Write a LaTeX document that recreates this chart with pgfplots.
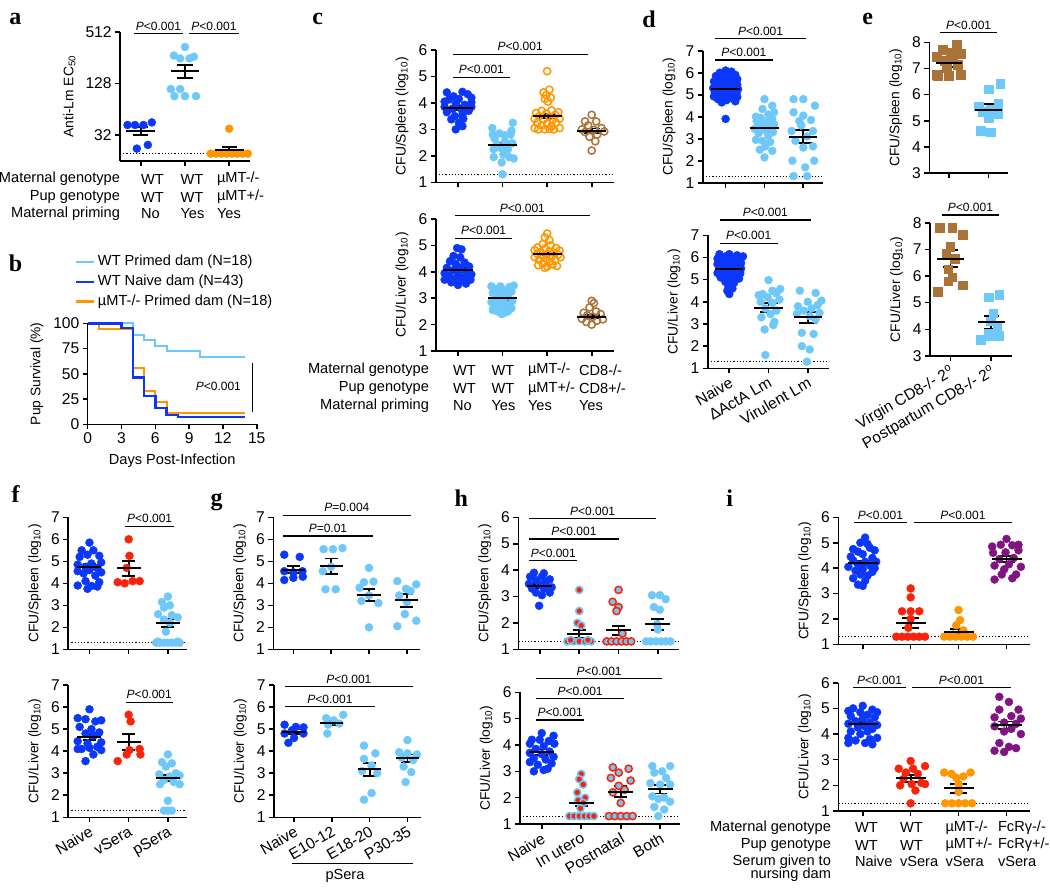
\documentclass[border=0pt]{standalone}
\usepackage{fontspec}
\setmainfont{Liberation Sans}
\newfontfamily\serifb{Liberation Serif}
\usepackage{pgfplots}
\pgfplotsset{compat=1.18}
\definecolor{cDB}{RGB}{10,55,250}
\definecolor{cLB}{RGB}{110,200,250}
\definecolor{cOR}{RGB}{255,150,0}
\definecolor{cBR}{RGB}{170,115,55}
\definecolor{cRD}{RGB}{250,35,10}
\definecolor{cPU}{RGB}{130,20,130}
\newcommand\tk{\fontsize{7.8}{8.5}\selectfont}
\newcommand\lab{\fontsize{7.3}{8.5}\selectfont}
\newcommand\yl{\fontsize{6.9}{8}\selectfont}
\newcommand\pv{\fontsize{6}{7}\selectfont}
\newcommand\pl{\serifb\bfseries\fontsize{12}{12}\selectfont}
\newcommand\Pl{\textit{P}<0.001}
\newcommand\sig[4]{\draw[line width=0.6pt] (axis cs:#1,#3) -- (axis cs:#2,#3) node[midway, above, inner sep=1.3pt, font=\pv] {#4};}
\newcommand\CFU[1]{CFU/#1 (log\textsubscript{10})}
\pgfplotsset{
 prism/.style={scale only axis, clip=false, axis lines=left, axis line style={-, line width=0.8pt},
   tick align=outside, major tick length=2.5pt, tick style={black, line width=0.8pt},
   ticklabel style={font=\tk, inner sep=1.5pt}, /pgf/number format/assume math mode=true,
   ylabel style={font=\yl}, xlabel style={font=\lab}, anchor=south west},
 sc/.style={only marks, mark=*, mark size=2pt, mark options={draw=#1, fill=#1, line width=0.2pt}},
 oc/.style={only marks, mark=o, mark size=1.8pt, mark options={draw=#1, line width=0.75pt}},
 sq/.style={only marks, mark=square*, mark size=2.2pt, mark options={draw=#1, fill=#1}},
 dc/.style 2 args={only marks, mark=*, mark size=1.8pt, mark options={fill=#1, draw=#2, line width=0.75pt}},
 msem/.style 2 args={only marks, mark=-, mark size=#1, mark options={black, line width=1pt},
   error bars/.cd, y dir=both, y explicit, error bar style={black, line width=0.9pt},
   error mark options={rotate=90, mark size=#2, black, line width=0.9pt}},
 lod/.style={black, densely dotted, line width=0.6pt},
 rotx/.style={xticklabel style={rotate=30, anchor=north east, inner sep=1pt}},
}
\begin{document}
\begin{tikzpicture}
\useasboundingbox (0,0) rectangle (525pt,-445pt);
% ---------------- a
\begin{axis}[prism, at={(60pt,-80.5pt)}, width=65pt, height=64.65pt, xmin=-0.47, xmax=2.47,
 ymode=log, log basis y=2, ymin=16, ymax=512, ytick={32,128,512}, yticklabels={32,128,512},
 xtick={0,1,2}, xticklabels={}, ylabel={Anti-Lm EC\textsubscript{50}}]
\addplot[lod] coordinates {(-0.47,19.5)(2.47,19.5)};
\addplot[sc=cDB] coordinates {(-0.3,42)(-0.13,42)(0.06,42)(0.25,45)(0.16,24.6)(-0.09,22.3)};
\addplot[sc=cLB] coordinates {(1.0,340)(0.75,270)(0.89,250)(1.1,250)(1.2,262)(0.68,110)(0.89,110)(0.76,91)(1.0,91)(1.25,91)};
\addplot[sc=cOR] coordinates {(2.0,38)(1.58,19.5)(1.7,19.5)(1.82,19.5)(1.94,19.5)(2.06,19.5)(2.18,19.5)(2.3,19.5)(2.42,19.5)};
\addplot[msem={7.2pt}{3.8pt}] coordinates {(0,36)+-(0,4) (1,179)+-(0,31) (2,21.3)+-(0,2)};
\sig{-0.15}{0.95}{490}{\Pl}
\sig{1.10}{2.21}{490}{\Pl}
\end{axis}
% ---------------- b
\begin{axis}[prism, at={(43.85pt,-212.15pt)}, width=84.5pt, height=50.5pt, xmin=0, xmax=15, ymin=0, ymax=100,
 xtick={0,3,...,15}, ytick={0,25,...,100}, xlabel={Days Post-Infection}, ylabel={Pup Survival (\%)},
 legend style={at={(-0.08,1.716)}, anchor=north west, draw=none, fill=none, font=\lab, row sep=-1pt, inner sep=0pt,
   nodes={inner xsep=1.5pt}},
 legend cell align=left, legend image code/.code={\draw[#1] (0pt,0pt) -- (9pt,0pt);}]
\addlegendimage{cLB, line width=1.2pt}\addlegendentry{WT Primed dam (N=18)}
\addlegendimage{cDB, line width=1.2pt}\addlegendentry{WT Naive dam (N=43)}
\addlegendimage{cOR, line width=1.2pt}\addlegendentry{\textmu MT-/- Primed dam (N=18)}
\addplot[cLB, line width=1pt, const plot, forget plot] coordinates {(0,100)(4,88.9)(5,83.3)(6,77.8)(7,72.2)(10,66.7)(14,66.7)};
\addplot[cOR, line width=1pt, const plot, forget plot] coordinates {(0,100)(1,94.4)(4,55.6)(5,33.3)(6,22.2)(7,11.1)(14,11.1)};
\addplot[cDB, line width=1.2pt, const plot, forget plot] coordinates {(0,100)(3,95.3)(4,46.5)(5,27.9)(6,16.3)(7,9.3)(8,7.0)(14,7.0)};
\draw[line width=0.6pt] (axis cs:14.6,12.5) -- (axis cs:14.6,61);
\node[font=\pv] at (axis cs:11.6,38) {\Pl};
\end{axis}
% ---------------- c top
\begin{axis}[prism, at={(217.85pt,-91.15pt)}, width=89.15pt, height=66.15pt, xmin=-0.5, xmax=3.5, ymin=1, ymax=6,
 ytick={1,...,6}, xtick={0,...,3}, xticklabels={}, ylabel={\CFU{Spleen}}]
\addplot[lod] coordinates {(-0.5,1.3)(3.5,1.3)};
\addplot[sc=cDB] coordinates {(-0.25,4.4)(0.1,4.42)(0.22,4.33)(-0.1,4.25)(0.3,4.2)(-0.2,4.13)(0.02,4.15)(0.3,4.02)(-0.3,4.05)(-0.05,3.97)(0.15,3.93)(-0.3,3.85)(0.3,3.85)(-0.12,3.78)(0.08,3.75)(0.24,3.7)(-0.25,3.65)(0.1,3.55)(-0.07,3.5)(-0.15,3.38)(0.12,3.4)(0.02,3.25)(0.1,3.12)(-0.05,3.0)};
\addplot[sc=cLB] coordinates {(1.23,3.25)(0.77,3.05)(1.2,2.95)(0.93,2.85)(1.05,2.78)(1.18,2.8)(0.78,2.8)(0.82,2.65)(1.05,2.55)(0.87,2.45)(1.22,2.48)(0.95,2.3)(1.12,2.25)(0.8,2.25)(1.02,2.05)(0.8,1.95)(1.15,1.95)(1.25,1.9)(0.98,1.75)(1.0,1.3)};
\addplot[oc=cOR] coordinates {(2.0,5.2)(2.05,4.5)(1.92,4.4)(1.98,4.3)(2.08,4.2)(1.95,4.15)(2.02,4.05)(1.88,3.7)(2.1,3.72)(2.25,3.65)(1.75,3.62)(1.98,3.6)(2.18,3.55)(1.82,3.5)(2.05,3.48)(1.72,3.4)(2.28,3.4)(1.92,3.38)(2.12,3.35)(1.78,3.25)(2.2,3.25)(2.0,3.22)(1.88,3.15)(2.1,3.12)(1.72,3.05)(2.28,3.05)(1.95,3.0)(2.15,3.0)(1.8,3.0)(2.05,3.02)};
\addplot[oc=cBR] coordinates {(3.0,3.55)(2.85,3.3)(3.1,3.3)(2.92,3.15)(3.22,3.05)(2.78,3.0)(3.05,2.98)(3.28,2.92)(2.85,2.9)(3.12,2.8)(2.95,2.72)(3.08,2.55)(3.0,2.2)};
\addplot[msem={7.3pt}{3.9pt}] coordinates {(0,3.8)+-(0,0.07) (1,2.4)+-(0,0.1) (2,3.5)+-(0,0.07) (3,2.95)+-(0,0.08)};
\sig{-0.12}{2.91}{5.84}{\Pl}
\sig{-0.12}{1.17}{4.97}{\Pl}
\end{axis}
% ---------------- c bottom
\begin{axis}[prism, at={(217.85pt,-175.5pt)}, width=89.15pt, height=66pt, xmin=-0.5, xmax=3.5, ymin=1, ymax=6,
 ytick={1,...,6}, xtick={0,...,3}, xticklabels={}, ylabel={\CFU{Liver}}]
\addplot[sc=cDB] coordinates {(-0.02,4.9)(0.08,4.85)(-0.1,4.6)(0.05,4.55)(-0.18,4.4)(0.15,4.35)(-0.05,4.3)(0.25,4.2)(-0.25,4.15)(0.05,4.15)(-0.12,4.05)(0.18,4.0)(-0.3,3.95)(0.3,3.9)(0.0,3.92)(-0.2,3.85)(0.15,3.8)(-0.05,3.75)(-0.3,3.7)(0.28,3.7)(0.08,3.65)(-0.15,3.6)(0.18,3.55)(0.0,3.5)};
\addplot[sc=cLB] coordinates {(0.75,3.45)(0.95,3.45)(1.15,3.42)(1.25,3.48)(0.85,3.35)(1.05,3.3)(1.2,3.25)(0.78,3.2)(0.95,3.15)(1.12,3.1)(0.85,3.0)(1.02,2.95)(1.22,2.9)(0.75,2.85)(0.92,2.8)(1.1,2.75)(0.8,2.65)(1.0,2.6)(1.2,2.62)(0.88,2.5)(1.05,2.45)(0.98,2.4)(1.12,2.5)(0.78,2.55)};
\addplot[oc=cOR] coordinates {(2.0,5.45)(1.95,5.3)(2.05,5.2)(1.9,5.05)(2.08,5.0)(1.78,4.92)(2.2,4.9)(1.95,4.88)(1.72,4.82)(2.28,4.8)(2.05,4.78)(1.85,4.75)(2.15,4.72)(1.78,4.68)(2.0,4.68)(2.25,4.65)(1.9,4.6)(2.1,4.58)(1.72,4.55)(2.3,4.55)(1.98,4.5)(1.82,4.45)(2.18,4.45)(2.05,4.38)(1.9,4.3)(2.12,4.28)(1.8,4.25)(2.0,4.2)(2.22,4.22)(1.95,4.15)};
\addplot[oc=cBR] coordinates {(3.0,2.9)(3.05,2.82)(2.95,2.65)(3.1,2.5)(2.82,2.45)(3.2,2.4)(2.9,2.35)(3.02,2.3)(2.78,2.22)(3.25,2.2)(3.12,2.15)(2.88,2.1)(3.0,2.0)};
\addplot[msem={7.3pt}{3.9pt}] coordinates {(0,4.05)+-(0,0.08) (1,3.0)+-(0,0.07) (2,4.68)+-(0,0.04) (3,2.3)+-(0,0.07)};
\sig{-0.07}{2.96}{6.12}{\Pl}
\sig{-0.07}{1.22}{5.27}{\Pl}
\end{axis}
% ---------------- d top
\begin{axis}[prism, at={(351.35pt,-91.35pt)}, width=60pt, height=66pt, xmin=-0.59, xmax=2.5, ymin=1, ymax=7,
 ytick={1,...,7}, xtick={0,1,2}, xticklabels={}, ylabel={\CFU{Spleen}}]
\addplot[lod] coordinates {(-0.59,1.3)(2.5,1.3)};
\addplot[sc=cDB] coordinates {(0.0,6.1)(0.15,6.05)(-0.15,6.0)(0.05,5.95)(0.25,5.9)(-0.25,5.85)(-0.05,5.82)(0.15,5.75)(0.3,5.7)(-0.2,5.7)(0.02,5.65)(-0.3,5.6)(0.2,5.6)(-0.1,5.55)(0.1,5.5)(0.3,5.45)(-0.25,5.45)(0.0,5.4)(-0.15,5.35)(0.18,5.35)(-0.32,5.3)(0.32,5.25)(0.05,5.25)(-0.12,5.2)(0.2,5.15)(-0.28,5.1)(0.0,5.1)(0.28,5.05)(-0.15,5.0)(0.12,4.98)(-0.3,4.92)(0.3,4.9)(-0.05,4.88)(0.18,4.82)(-0.2,4.8)(0.02,4.75)(0.25,4.7)(-0.1,4.65)(0.0,3.9)};
\addplot[sc=cLB] coordinates {(1.0,4.8)(1.2,4.5)(0.95,4.35)(1.25,4.2)(0.78,4.0)(1.1,4.1)(0.9,3.95)(1.2,3.9)(0.8,3.8)(1.05,3.75)(1.25,3.65)(0.9,3.6)(1.15,3.5)(0.75,3.45)(1.0,3.4)(1.22,3.3)(0.85,3.25)(1.1,3.15)(0.78,2.95)(0.95,2.9)(1.15,2.85)(1.02,2.65)(0.88,2.5)(1.2,2.45)(1.0,2.15)};
\addplot[sc=cLB] coordinates {(1.75,4.8)(2.0,4.8)(2.3,4.5)(1.75,4.2)(2.0,4.05)(1.95,3.6)(1.7,3.35)(2.25,3.35)(2.1,3.1)(1.8,2.9)(2.0,2.6)(2.25,2.65)(1.72,2.0)(2.28,2.0)(2.05,1.7)(1.75,1.3)(2.1,1.3)(1.9,3.8)(2.2,3.85)};
\addplot[msem={7.1pt}{4.5pt}] coordinates {(0,5.25)+-(0,0.06) (1,3.5)+-(0,0.14) (2,3.1)+-(0,0.29)};
\sig{-0.27}{2.07}{7.56}{\Pl}
\sig{-0.27}{1.21}{6.58}{\Pl}
\end{axis}
% ---------------- d bottom
\begin{axis}[prism, rotx, at={(353.85pt,-184.15pt)}, width=60.8pt, height=66.5pt, xmin=-0.55, xmax=2.55, ymin=1, ymax=7,
 ytick={1,...,7}, xtick={0,1,2}, xticklabels={Naive,ΔActA Lm,Virulent Lm}, ylabel={\CFU{Liver}}]
\addplot[lod] coordinates {(-0.55,1.3)(2.55,1.3)};
\addplot[sc=cDB] coordinates {(-0.25,6.15)(0.0,6.15)(0.2,6.1)(0.35,6.05)(-0.1,6.05)(0.1,6.0)(-0.3,5.95)(0.28,5.9)(-0.05,5.9)(0.15,5.85)(-0.2,5.8)(0.3,5.75)(0.02,5.72)(-0.3,5.7)(0.2,5.65)(-0.12,5.6)(0.08,5.55)(-0.25,5.5)(0.3,5.5)(0.0,5.45)(-0.15,5.4)(0.18,5.38)(-0.3,5.3)(0.28,5.28)(0.05,5.25)(-0.1,5.2)(0.15,5.15)(-0.22,5.1)(0.25,5.05)(0.0,5.0)(-0.1,4.9)(0.12,4.85)(-0.02,4.7)(0.08,4.6)(-0.05,4.5)(0.0,4.35)};
\addplot[sc=cLB] coordinates {(1.0,4.98)(1.3,4.58)(1.1,4.5)(0.85,4.35)(1.2,4.38)(0.75,4.3)(0.98,4.2)(1.28,4.1)(0.8,4.0)(1.1,3.95)(0.92,3.7)(1.2,3.6)(1.05,3.45)(0.82,3.3)(1.15,3.1)(0.9,2.75)(1.12,2.95)(0.92,1.6)};
\addplot[sc=cLB] coordinates {(1.8,4.5)(2.2,4.4)(2.35,4.05)(2.0,4.0)(1.75,3.8)(2.25,3.85)(2.1,3.7)(1.9,3.6)(2.3,3.5)(1.72,3.45)(2.05,3.35)(2.2,3.2)(1.85,2.6)(2.15,2.55)(1.85,2.0)(2.05,1.85)(1.98,1.3)};
\addplot[msem={7.1pt}{4.5pt}] coordinates {(0,5.48)+-(0,0.07) (1,3.73)+-(0,0.2) (2,3.3)+-(0,0.25)};
\sig{-0.24}{2.08}{7.69}{\Pl}
\sig{-0.24}{1.23}{6.64}{\Pl}
\end{axis}
% ---------------- e top
\begin{axis}[prism, at={(464.65pt,-86.5pt)}, width=39.5pt, height=65.35pt, xmin=-0.5, xmax=1.5, ymin=3, ymax=8,
 ytick={3,...,8}, xtick={0,1}, xticklabels={}, ylabel={\CFU{Spleen}}]
\addplot[sq=cBR] coordinates {(0.2,7.9)(-0.15,7.7)(0.05,7.6)(0.3,7.55)(-0.3,7.45)(0.1,7.35)(-0.1,7.3)(0.22,7.15)(-0.05,7.0)(-0.3,6.75)(0.0,6.7)(0.3,6.75)(-0.28,6.7)};
\addplot[sq=cLB] coordinates {(1.3,6.4)(1.0,6.2)(1.25,5.65)(0.75,5.55)(1.05,5.4)(0.85,5.35)(1.25,5.25)(1.0,5.1)(0.8,4.6)(1.05,4.55)};
\addplot[msem={6.7pt}{3.75pt}] coordinates {(0,7.22)+-(0,0.15) (1,5.4)+-(0,0.23)};
\sig{-0.23}{1.22}{8.38}{\Pl}
\end{axis}
% ---------------- e bottom
\begin{axis}[prism, rotx, at={(465pt,-178pt)}, width=40.85pt, height=66.65pt, xmin=-0.5, xmax=1.5, ymin=3, ymax=8,
 ytick={3,...,8}, xtick={0,1}, xticklabels={Virgin CD8-/- 2\textsuperscript{o},Postpartum CD8-/- 2\textsuperscript{o}}, ylabel={\CFU{Liver}}]
\addplot[sq=cBR] coordinates {(-0.25,7.8)(0.05,7.8)(0.3,7.55)(0.0,7.1)(-0.1,6.85)(0.1,6.65)(-0.05,6.25)(0.05,5.95)(-0.05,5.8)(0.3,5.65)(-0.3,5.4)};
\addplot[sq=cLB] coordinates {(1.2,5.3)(0.95,5.2)(1.05,4.6)(1.0,4.3)(1.15,4.05)(0.95,3.85)(1.2,3.75)(0.75,3.6)(1.0,3.75)};
\addplot[msem={6.7pt}{3.75pt}] coordinates {(0,6.65)+-(0,0.32) (1,4.27)+-(0,0.24)};
\sig{-0.21}{1.19}{8.29}{\Pl}
\end{axis}
% ---------------- f top
\begin{axis}[prism, at={(34.15pt,-324.65pt)}, width=59.2pt, height=66pt, xmin=-0.54, xmax=2.48, ymin=1, ymax=7,
 ytick={1,...,7}, xtick={0,1,2}, xticklabels={}, ylabel={\CFU{Spleen}}]
\addplot[lod] coordinates {(-0.54,1.3)(2.48,1.3)};
\addplot[sc=cDB] coordinates {(0.0,5.85)(-0.2,5.5)(0.1,5.5)(-0.05,5.3)(0.25,5.25)(-0.25,5.2)(0.3,4.95)(-0.3,4.85)(0.05,4.9)(-0.1,4.75)(0.2,4.7)(-0.3,4.55)(0.0,4.6)(0.3,4.5)(-0.15,4.45)(0.15,4.35)(-0.1,4.1)(0.25,4.05)(-0.3,3.9)(0.05,3.88)(-0.05,3.75)(0.2,3.85)};
\addplot[sc=cRD] coordinates {(1.0,6.0)(1.02,5.25)(0.95,4.7)(0.72,4.05)(0.9,4.0)(1.1,4.1)(1.28,4.1)};
\addplot[sc=cLB] coordinates {(2.0,3.4)(1.85,3.15)(2.05,3.0)(1.9,2.9)(1.75,2.6)(2.1,2.55)(2.25,2.45)(1.9,2.35)(2.05,2.2)(1.95,1.8)(1.7,1.3)(1.8,1.3)(1.9,1.3)(2.0,1.3)(2.1,1.3)(2.2,1.3)(2.3,1.3)(1.75,1.35)(2.25,1.35)};
\addplot[msem={6pt}{3.3pt}] coordinates {(0,4.75)+-(0,0.12) (1,4.68)+-(0,0.33) (2,2.2)+-(0,0.17)};
\sig{0.91}{2.16}{6.6}{\Pl}
\end{axis}
% ---------------- f bottom
\begin{axis}[prism, rotx, at={(34.15pt,-408.65pt)}, width=59.2pt, height=66.15pt, xmin=-0.54, xmax=2.48, ymin=1, ymax=7,
 ytick={1,...,7}, xtick={0,1,2}, xticklabels={Naive,vSera,pSera}, ylabel={\CFU{Liver}}]
\addplot[lod] coordinates {(-0.54,1.3)(2.48,1.3)};
\addplot[sc=cDB] coordinates {(0.0,5.9)(-0.3,5.5)(0.3,5.4)(-0.1,5.45)(0.15,5.35)(-0.25,5.1)(0.05,5.0)(0.25,4.85)(-0.1,4.8)(0.1,4.7)(-0.3,4.45)(0.3,4.4)(-0.05,4.35)(0.2,4.2)(-0.2,4.1)(0.0,4.15)(0.3,4.05)(-0.3,4.1)(0.1,3.85)(-0.1,3.55)};
\addplot[sc=cRD] coordinates {(1.0,5.65)(1.05,5.35)(1.28,4.1)(1.02,4.05)(1.3,3.85)(0.72,3.55)(0.95,3.85)};
\addplot[sc=cLB] coordinates {(2.0,3.85)(1.85,3.5)(2.1,3.45)(1.95,3.3)(2.2,3.0)(1.78,2.95)(2.3,2.9)(2.05,2.85)(1.9,2.7)(2.15,2.6)(2.3,2.5)(1.8,2.5)(2.0,1.75)(1.9,1.3)(2.0,1.3)(2.1,1.3)};
\addplot[msem={6pt}{3.3pt}] coordinates {(0,4.65)+-(0,0.13) (1,4.42)+-(0,0.35) (2,2.78)+-(0,0.15)};
\sig{0.93}{2.12}{6.22}{\Pl}
\end{axis}
% ---------------- g top
\begin{axis}[prism, at={(136.65pt,-324.65pt)}, width=73.35pt, height=66pt, xmin=-0.53, xmax=3.35, ymin=1, ymax=7,
 ytick={1,...,7}, xtick={0,...,3}, xticklabels={}, ylabel={\CFU{Spleen}}]
\addplot[sc=cDB] coordinates {(-0.24,5.3)(0.17,5.2)(-0.24,4.55)(0.0,4.5)(0.24,4.55)(-0.24,4.15)(0.0,4.25)(0.25,4.3)};
\addplot[sc=cLB] coordinates {(0.8,5.55)(1.05,5.55)(1.3,5.6)(0.78,4.55)(1.0,4.75)(0.85,3.73)(1.12,3.73)};
\addplot[sc=cLB] coordinates {(2.0,4.7)(1.87,4.05)(2.12,4.08)(1.75,3.8)(2.0,3.45)(1.8,3.2)(2.25,3.1)(2.0,2.0)};
\addplot[sc=cLB] coordinates {(2.75,4.1)(3.25,3.95)(2.98,3.75)(3.1,3.65)(2.8,3.45)(3.0,3.15)(2.95,2.6)(3.25,2.3)(2.75,2.05)};
\addplot[msem={5.8pt}{3.2pt}] coordinates {(0,4.62)+-(0,0.15) (1,4.78)+-(0,0.35) (2,3.47)+-(0,0.28) (3,3.22)+-(0,0.28)};
\sig{-0.27}{3.10}{7.1}{\textit{P}=0.004}
\sig{-0.27}{2.10}{6.15}{\textit{P}=0.01}
\end{axis}
% ---------------- g bottom
\begin{axis}[prism, rotx, at={(137pt,-408.65pt)}, width=73.35pt, height=66.15pt, xmin=-0.53, xmax=3.35, ymin=1, ymax=7,
 ytick={1,...,7}, xtick={0,...,3}, xticklabels={Naive,E10-12,E18-20,P30-35}, ylabel={\CFU{Liver}}]
\addplot[sc=cDB] coordinates {(-0.25,5.2)(0.05,5.1)(0.25,5.08)(-0.05,4.95)(-0.25,4.8)(0.25,4.8)(0.0,4.6)(-0.15,4.38)};
\addplot[sc=cLB] coordinates {(0.85,5.5)(1.3,5.65)(1.05,5.4)(0.9,5.2)(1.2,5.25)(0.88,4.8)};
\addplot[sc=cLB] coordinates {(1.85,4.25)(2.15,3.9)(1.85,3.65)(2.05,3.35)(1.8,3.1)(2.2,3.0)(2.05,2.1)(1.85,1.8)};
\addplot[sc=cLB] coordinates {(3.0,4.5)(2.78,3.95)(3.0,3.9)(3.25,3.85)(2.85,3.7)(3.15,3.6)(2.9,3.3)(3.1,3.05)(2.95,2.6)};
\addplot[msem={5.8pt}{3.2pt}] coordinates {(0,4.88)+-(0,0.1) (1,5.28)+-(0,0.1) (2,3.17)+-(0,0.3) (3,3.68)+-(0,0.17)};
\sig{-0.24}{3.14}{6.92}{\Pl}
\sig{-0.24}{2.14}{6.02}{\Pl}
\end{axis}
% ---------------- h top
\begin{axis}[prism, at={(259.15pt,-324.65pt)}, width=80.2pt, height=66pt, xmin=-0.55, xmax=3.53, ymin=1, ymax=6,
 ytick={1,...,6}, xtick={0,...,3}, xticklabels={}, ylabel={\CFU{Spleen}}]
\addplot[lod] coordinates {(-0.55,1.3)(3.53,1.3)};
\addplot[sc=cDB] coordinates {(-0.15,3.9)(0.1,3.88)(-0.25,3.75)(0.05,3.75)(0.25,3.65)(-0.1,3.62)(0.15,3.55)(-0.28,3.48)(0.0,3.45)(0.3,3.35)(-0.2,3.3)(0.1,3.3)(-0.1,3.15)(0.25,3.15)(0.05,3.05)(-0.02,2.65)};
\addplot[dc={cRD}{cLB}] coordinates {(1.0,3.25)(1.0,2.45)(0.95,2.0)(1.05,1.9)(0.7,1.3)(0.85,1.3)(1.0,1.3)(1.15,1.3)(1.3,1.3)(0.78,1.35)(1.22,1.35)};
\addplot[dc={cLB}{cRD}] coordinates {(2.0,3.25)(1.85,2.8)(2.0,2.6)(1.95,2.45)(2.1,1.6)(1.7,1.3)(1.82,1.3)(1.95,1.3)(2.08,1.3)(2.2,1.3)(2.32,1.3)};
\addplot[sc=cLB] coordinates {(2.85,3.05)(3.05,3.05)(3.2,2.9)(2.9,2.6)(3.05,2.5)(2.98,1.95)(3.0,1.75)(2.7,1.3)(2.82,1.3)(2.95,1.3)(3.08,1.3)(3.2,1.3)(3.32,1.3)};
\addplot[msem={6.25pt}{3.3pt}] coordinates {(0,3.4)+-(0,0.08) (1,1.57)+-(0,0.15) (2,1.72)+-(0,0.17) (3,1.94)+-(0,0.2)};
\sig{-0.27}{2.95}{5.96}{\Pl}
\sig{-0.27}{2.0}{5.18}{\Pl}
\sig{-0.27}{0.95}{4.36}{\Pl}
\end{axis}
% ---------------- h bottom
\begin{axis}[prism, rotx, at={(260pt,-412pt)}, width=80pt, height=65.85pt, xmin=-0.55, xmax=3.5, ymin=1, ymax=6,
 ytick={1,...,6}, xtick={0,...,3}, xticklabels={Naive,In utero,Postnatal,Both}, ylabel={\CFU{Liver}}]
\addplot[lod] coordinates {(-0.55,1.3)(3.5,1.3)};
\addplot[sc=cDB] coordinates {(0.0,4.45)(0.3,4.35)(-0.25,4.2)(-0.05,4.2)(0.18,4.15)(0.32,4.05)(-0.3,4.05)(0.05,3.95)(-0.15,3.85)(0.2,3.75)(-0.3,3.7)(0.0,3.65)(0.3,3.55)(-0.2,3.5)(0.1,3.45)(-0.3,3.35)(0.25,3.3)(-0.1,3.25)(0.15,3.1)(-0.2,3.0)(0.05,3.05)};
\addplot[dc={cRD}{cLB}] coordinates {(1.0,2.9)(0.95,2.7)(1.05,2.5)(0.9,2.2)(1.1,2.0)(0.92,1.9)(1.05,1.8)(0.98,1.6)(0.7,1.3)(0.82,1.3)(0.95,1.3)(1.08,1.3)(1.2,1.3)(1.32,1.3)};
\addplot[dc={cLB}{cRD}] coordinates {(1.8,3.15)(2.2,3.1)(1.95,2.95)(1.75,2.75)(2.25,2.65)(1.95,2.45)(2.1,2.3)(1.8,2.2)(2.0,1.8)(1.7,1.3)(1.85,1.3)(2.0,1.3)(2.15,1.3)(2.3,1.3)};
\addplot[sc=cLB] coordinates {(2.8,3.2)(3.25,3.2)(3.05,3.0)(2.85,2.95)(3.15,2.75)(2.75,2.55)(3.0,2.5)(3.25,2.5)(2.8,2.05)(3.1,2.0)(2.95,1.95)(3.25,1.85)(2.85,1.65)(3.1,1.55)(2.95,1.3)};
\addplot[msem={6.25pt}{3.3pt}] coordinates {(0,3.73)+-(0,0.1) (1,1.8)+-(0,0.13) (2,2.23)+-(0,0.2) (3,2.32)+-(0,0.16)};
\sig{-0.145}{3.05}{6.53}{\Pl}
\sig{-0.145}{2.09}{5.77}{\Pl}
\sig{-0.145}{1.08}{4.95}{\Pl}
\end{axis}
% ---------------- i top
\begin{axis}[prism, at={(419.15pt,-322.15pt)}, width=95.85pt, height=63.5pt, xmin=-0.51, xmax=3.49, ymin=1, ymax=6,
 ytick={1,...,6}, xtick={0,...,3}, xticklabels={}, ylabel={\CFU{Spleen}}]
\addplot[lod] coordinates {(-0.51,1.3)(3.49,1.3)};
\addplot[sc=cDB] coordinates {(0.05,5.2)(-0.05,5.0)(0.1,4.95)(-0.2,4.75)(0.15,4.8)(0.25,4.7)(-0.1,4.65)(0.0,4.55)(-0.25,4.45)(0.2,4.4)(0.28,4.25)(-0.2,4.3)(0.05,4.25)(-0.1,4.15)(0.15,4.1)(-0.3,4.05)(0.25,4.0)(0.0,3.95)(-0.15,3.9)(0.2,3.85)(-0.05,3.75)(0.1,3.7)(-0.2,3.6)(0.05,3.5)(-0.1,3.35)(0.0,3.3)};
\addplot[sc=cRD] coordinates {(1.0,3.2)(1.0,2.85)(0.82,2.3)(1.0,2.3)(1.18,2.3)(1.0,2.0)(0.95,1.65)(0.7,1.3)(0.82,1.3)(0.94,1.3)(1.06,1.3)(1.18,1.3)(1.3,1.3)};
\addplot[sc=cOR] coordinates {(2.0,2.35)(2.03,1.95)(1.95,1.75)(2.1,1.55)(1.7,1.3)(1.82,1.3)(1.94,1.3)(2.06,1.3)(2.18,1.3)(2.3,1.3)(1.88,1.38)(2.12,1.38)};
\addplot[sc=cPU] coordinates {(3.0,5.15)(2.7,4.85)(2.88,4.92)(3.12,4.9)(3.25,4.92)(2.72,4.6)(2.98,4.62)(3.25,4.7)(2.85,4.35)(3.15,4.4)(2.75,4.1)(3.05,4.15)(3.3,4.05)(2.95,3.95)(2.9,3.75)(3.2,3.75)(2.75,3.55)(3.12,3.6)};
\addplot[msem={7.5pt}{4.2pt}] coordinates {(0,4.2)+-(0,0.1) (1,1.85)+-(0,0.2) (2,1.5)+-(0,0.1) (3,4.37)+-(0,0.12)};
\sig{-0.18}{0.92}{5.8}{\Pl}
\sig{1.06}{3.12}{5.8}{\Pl}
\end{axis}
% ---------------- i bottom
\begin{axis}[prism, at={(419.15pt,-405.5pt)}, width=95.85pt, height=64.15pt, xmin=-0.51, xmax=3.49, ymin=1, ymax=6,
 ytick={1,...,6}, xtick={0,...,3}, xticklabels={}, ylabel={\CFU{Liver}}]
\addplot[lod] coordinates {(-0.51,1.3)(3.49,1.3)};
\addplot[sc=cDB] coordinates {(0.0,5.1)(-0.2,5.0)(0.2,4.95)(0.3,4.85)(-0.3,4.9)(-0.05,4.85)(0.1,4.75)(-0.25,4.7)(0.25,4.65)(0.0,4.6)(-0.15,4.5)(0.15,4.45)(-0.3,4.4)(0.3,4.35)(0.05,4.3)(-0.1,4.25)(0.2,4.2)(-0.25,4.1)(0.1,4.1)(0.3,3.85)(-0.05,4.0)(-0.3,3.85)(0.15,3.8)(-0.15,3.75)(0.05,3.65)(-0.3,3.65)(0.2,3.6)};
\addplot[sc=cRD] coordinates {(1.0,2.95)(0.75,2.65)(1.05,2.65)(1.3,2.75)(0.9,2.5)(1.15,2.45)(0.85,2.25)(1.22,2.1)(1.02,2.05)(1.3,2.05)(0.78,2.0)(1.1,1.8)(1.0,1.3)};
\addplot[sc=cOR] coordinates {(1.7,2.5)(2.25,2.5)(1.85,2.45)(2.1,2.35)(1.95,2.3)(2.0,2.05)(2.0,1.75)(1.72,1.3)(1.86,1.3)(2.0,1.3)(2.14,1.3)(2.28,1.3)};
\addplot[sc=cPU] coordinates {(2.85,5.45)(3.05,5.25)(2.85,4.95)(3.25,4.95)(3.1,4.7)(2.75,4.65)(3.3,4.6)(2.95,4.45)(3.2,4.4)(2.75,4.3)(3.1,4.2)(2.95,4.1)(3.3,4.0)(2.85,3.65)(3.05,3.5)(3.2,3.45)(2.75,3.35)(2.95,3.3)};
\addplot[msem={7.5pt}{4.2pt}] coordinates {(0,4.4)+-(0,0.08) (1,2.27)+-(0,0.13) (2,1.88)+-(0,0.17) (3,4.35)+-(0,0.14)};
\sig{-0.2}{0.9}{5.82}{\Pl}
\sig{1.03}{3.09}{5.82}{\Pl}
\end{axis}
% ---------------- text
\begin{scope}[x=0.5pt, y=-0.5pt]
\node[font=\pl] at (15.5,19) {a};
\node[font=\pl] at (15.5,263) {b};
\node[font=\pl] at (317.7,18.5) {c};
\node[font=\pl] at (649,19) {d};
\node[font=\pl] at (867.7,18.5) {e};
\node[font=\pl] at (15.5,494) {f};
\node[font=\pl] at (216.7,502) {g};
\node[font=\pl] at (461.3,498) {h};
\node[font=\pl] at (729.7,498) {i};
\begin{scope}[font=\lab]
% a table
\node[anchor=east] at (127,179) {Maternal genotype};
\node[anchor=east] at (127,197) {Pup genotype};
\node[anchor=east] at (127,214) {Maternal priming};
\node[anchor=west] at (134,179) {WT}; \node[anchor=west] at (134,197) {WT}; \node[anchor=west] at (134,214) {No};
\node[anchor=west] at (173.5,179) {WT}; \node[anchor=west] at (173.5,197) {WT}; \node[anchor=west] at (173.5,214) {Yes};
\node[anchor=west] at (210,179) {\textmu MT-/-}; \node[anchor=west] at (210,197) {\textmu MT+/-}; \node[anchor=west] at (210,214) {Yes};
% c table
\node[anchor=east] at (436,370) {Maternal genotype};
\node[anchor=east] at (436,388.3) {Pup genotype};
\node[anchor=east] at (436,405.7) {Maternal priming};
\node[anchor=west] at (446,370) {WT}; \node[anchor=west] at (446,388.3) {WT}; \node[anchor=west] at (446,405.7) {No};
\node[anchor=west] at (484.5,370) {WT}; \node[anchor=west] at (484.5,388.3) {WT}; \node[anchor=west] at (484.5,405.7) {Yes};
\node[anchor=west] at (521,370) {\textmu MT-/-}; \node[anchor=west] at (521,388.3) {\textmu MT+/-}; \node[anchor=west] at (521,405.7) {Yes};
\node[anchor=west] at (572,370) {CD8-/-}; \node[anchor=west] at (572,388.3) {CD8+/-}; \node[anchor=west] at (572,405.7) {Yes};
% i table
\node[anchor=east] at (838,827.7) {Maternal genotype};
\node[anchor=east] at (838,845) {Pup genotype};
\node[anchor=east] at (838,861.7) {Serum given to};
\node[anchor=east] at (838,875) {nursing dam};
\node[anchor=west] at (848,827.7) {WT}; \node[anchor=west] at (848,845) {WT}; \node[anchor=west] at (848,861.7) {Naive};
\node[anchor=west] at (893,827.7) {WT}; \node[anchor=west] at (893,845) {WT}; \node[anchor=west] at (893,861.7) {vSera};
\node[anchor=west] at (938.5,827.7) {\textmu MT-/-}; \node[anchor=west] at (938.5,845) {\textmu MT+/-}; \node[anchor=west] at (938.5,861.7) {vSera};
\node[anchor=west] at (991,827.7) {FcRγ-/-}; \node[anchor=west] at (991,845) {FcRγ+/-}; \node[anchor=west] at (991,861.7) {vSera};
% g pSera
\draw[line width=0.6pt] (291.7,863.3) -- (412.7,863.3);
\node at (345,876) {pSera};
\end{scope}
\end{scope}
\end{tikzpicture}
\end{document}
